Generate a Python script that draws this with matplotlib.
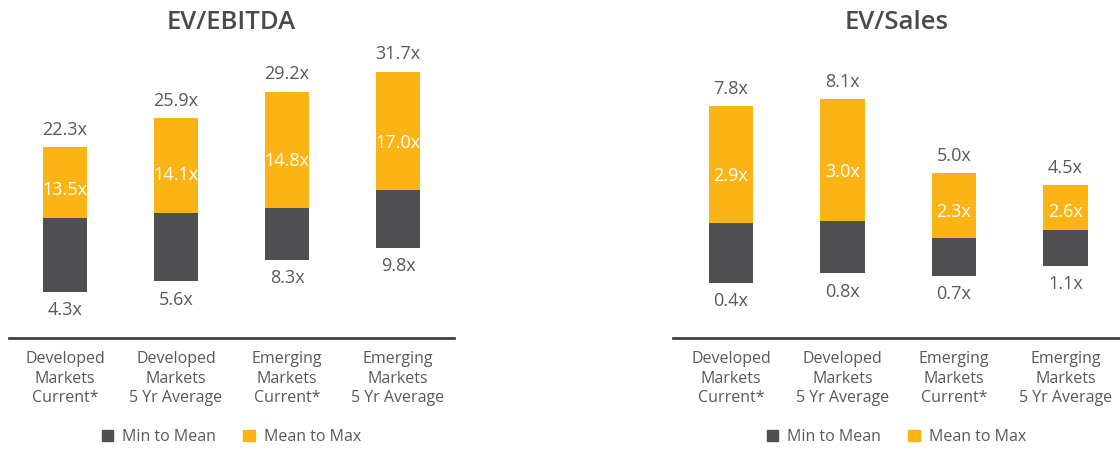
import matplotlib
matplotlib.use("Agg")
import matplotlib.pyplot as plt
from matplotlib.patches import Patch

plt.rcParams['font.family'] = ['Open Sans', 'DejaVu Sans']

# data
categories = ["Developed\nMarkets\nCurrent*", "Developed\nMarkets\n5 Yr Average",
              "Emerging\nMarkets\nCurrent*", "Emerging\nMarkets\n5 Yr Average"]

ebitda_min = [4.3, 5.6, 8.3, 9.8]
ebitda_mean = [13.5, 14.1, 14.8, 17.0]
ebitda_max = [22.3, 25.9, 29.2, 31.7]

sales_min = [0.4, 0.8, 0.7, 1.1]
sales_mean = [2.9, 3.0, 2.3, 2.6]
sales_max = [7.8, 8.1, 5.0, 4.5]

DARK = '#4f4f51'
ORANGE = '#fbb416'
TEXT = '#595959'


def draw_panel(ax, title, vmin, vmean, vmax, ylim, xlim):
	x = range(len(categories))
	low = [m - n for n, m in zip(vmin, vmean)]
	high = [m - n for n, m in zip(vmean, vmax)]
	ax.bar(x, low, bottom=vmin, width=0.4, color=DARK)
	ax.bar(x, high, bottom=vmean, width=0.4, color=ORANGE)

	for i in x:
		ax.annotate(f"{vmax[i]:.1f}x", (i, vmax[i]), xytext=(0, 12.5),
		            textcoords='offset points', ha='center', va='center',
		            fontsize=13, color=TEXT)
		ax.annotate(f"{vmin[i]:.1f}x", (i, vmin[i]), xytext=(0, -13),
		            textcoords='offset points', ha='center', va='center',
		            fontsize=13, color=TEXT)
		# mean label sits a bit below the middle of the orange part
		ypos = vmean[i] + 0.4 * (vmax[i] - vmean[i])
		ax.text(i, ypos, f"{vmean[i]:.1f}x", ha='center', va='center',
		        fontsize=13, color='white')

	ax.set_ylim(*ylim)
	ax.set_xlim(*xlim)
	ax.set_yticks([])
	ax.set_xticks(list(x))
	ax.set_xticklabels(categories, fontsize=11.5, color=TEXT, linespacing=1.3)
	ax.tick_params(axis='x', length=0, pad=9.5)
	for s in ['top', 'left', 'right']:
		ax.spines[s].set_visible(False)
	ax.spines['bottom'].set_color('#404040')
	ax.spines['bottom'].set_linewidth(2)
	ax.set_facecolor('none')

	ax.set_title(title, fontsize=18.5, fontweight='semibold', color='#4a4a4a', pad=0,
	             y=1.0 + 21 / 288)

	handles = [Patch(color=DARK, label='Min to Mean'), Patch(color=ORANGE, label='Mean to Max')]
	ax.legend(handles=handles, loc='center', bbox_to_anchor=(0.5, -0.345), ncol=2,
	          frameon=False, fontsize=11.5, handlelength=0.7, handleheight=0.7,
	          handletextpad=0.6, columnspacing=1.7, labelcolor=TEXT)


fig = plt.figure(figsize=(11.2, 4.5), dpi=100)
ax1 = fig.add_axes([9 / 1120, 1 - 338 / 450, 445 / 1120, 288 / 450])
ax2 = fig.add_axes([673 / 1120, 1 - 338 / 450, 447 / 1120, 288 / 450])

draw_panel(ax1, "EV/EBITDA", ebitda_min, ebitda_mean, ebitda_max,
           (-1.43, 34.4), (-0.505, 3.505))
draw_panel(ax2, "EV/Sales", sales_min, sales_mean, sales_max,
           (-1.90, 10.15), (-0.52, 3.49))

fig.savefig("out.png", dpi=100)
